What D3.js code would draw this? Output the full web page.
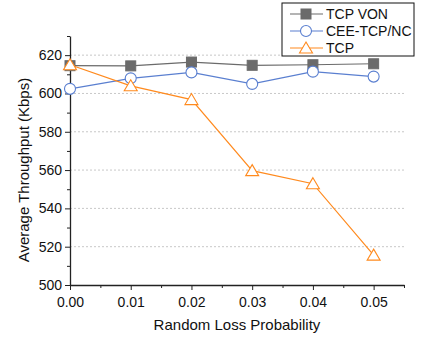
<!DOCTYPE html>
<html lang="en">
<head>
<meta charset="utf-8">
<script src="https://d3js.org/d3.v7.min.js"></script>
<style>
    body { margin: 0; background: #fff; }
    text { font-family: Arial, 'Liberation Sans', sans-serif; fill: #111; }
    .grid line { stroke: #c8c8c8; stroke-dasharray: 2,2; }
    .axis path, .axis line { stroke: #222; }
</style>
</head>
<body>
<svg width="425" height="344"></svg>
<script>
// data
var lossProb = [0.00, 0.01, 0.02, 0.03, 0.04, 0.05];
var tcpVon = [614.5, 614.4, 616.4, 614.7, 615.0, 615.5];
var ceeTcpNc = [602.4, 607.9, 611.0, 605.0, 611.4, 608.8];
var tcp = [615.0, 604.0, 596.8, 559.7, 552.9, 515.6];
var xTicks = [0, 0.01, 0.02, 0.03, 0.04, 0.05];
var yTicks = [500, 520, 540, 560, 580, 600, 620];
var seriesNames = ["TCP VON", "CEE-TCP/NC", "TCP"];

var svg = d3.select("svg"),
    margin = {top: 36, right: 21, bottom: 59, left: 70},
    width = +svg.attr("width") - margin.left - margin.right,
    height = +svg.attr("height") - margin.top - margin.bottom,
    g = svg.append("g").attr("transform", "translate(" + margin.left + "," + margin.top + ")");

var x = d3.scaleLinear().domain([0, 0.055]).range([0, width]);
var y = d3.scaleLinear().domain([500, 630]).range([height, 0]);

// dashed grid
g.append("g").attr("class", "grid")
    .selectAll("line")
    .data(yTicks.slice(1))
    .enter().append("line")
    .attr("x1", 0).attr("x2", width)
    .attr("y1", function(d) { return y(d); })
    .attr("y2", function(d) { return y(d); });

// minor ticks
g.append("g").attr("class", "axis")
    .attr("transform", "translate(0," + height + ")")
    .call(d3.axisBottom(x).tickValues(d3.range(0.005, 0.056, 0.01)).tickSize(3).tickFormat(""))
    .select(".domain").remove();
g.append("g").attr("class", "axis")
    .call(d3.axisLeft(y).tickValues(d3.range(510, 631, 20)).tickSize(3).tickFormat(""))
    .select(".domain").remove();

var xAxis = g.append("g").attr("class", "axis")
    .attr("transform", "translate(0," + height + ")")
    .call(d3.axisBottom(x).tickValues(xTicks).tickSize(5).tickSizeOuter(0).tickFormat(d3.format(".2f")));
xAxis.selectAll("text").attr("font-size", 14).attr("dy", "1em").style("font-family", "Arial, 'Liberation Sans', sans-serif");

var yAxis = g.append("g").attr("class", "axis")
    .call(d3.axisLeft(y).tickValues(yTicks).tickSize(5).tickSizeOuter(0));
yAxis.selectAll("text").attr("font-size", 14).style("font-family", "Arial, 'Liberation Sans', sans-serif");
svg.selectAll(".axis path.domain").attr("stroke-width", 1.3);

svg.append("text")
    .attr("x", margin.left + x(0.0275))
    .attr("y", 330)
    .attr("text-anchor", "middle")
    .attr("font-size", 15)
    .text("Random Loss Probability");

svg.append("text")
    .attr("transform", "translate(29," + (margin.top + y(560)) + ") rotate(-90)")
    .attr("text-anchor", "middle")
    .attr("font-size", 15)
    .text("Average Throughput (Kbps)");

var series = [
    {name: seriesNames[0], values: tcpVon, color: "#6b6b6b", shape: "square"},
    {name: seriesNames[1], values: ceeTcpNc, color: "#5a7fd0", shape: "circle"},
    {name: seriesNames[2], values: tcp, color: "#ff8a1e", shape: "triangle"}
];

var line = d3.line()
    .x(function(d, i) { return x(lossProb[i]); })
    .y(function(d) { return y(d); });

function marker(sel, s) {
    if (s.shape === "square") {
        sel.append("rect").attr("x", -5).attr("y", -5).attr("width", 10).attr("height", 10)
            .attr("fill", s.color).attr("stroke", s.color);
    } else if (s.shape === "circle") {
        sel.append("circle").attr("r", 5.5).attr("fill", "#fff").attr("stroke", s.color).attr("stroke-width", 1.1);
    } else {
        sel.append("path").attr("d", "M0,-6L6.5,5L-6.5,5Z").attr("fill", "#fff").attr("stroke", s.color).attr("stroke-width", 1.1);
    }
}

series.forEach(function(s) {
    g.append("path")
        .datum(s.values)
        .attr("fill", "none")
        .attr("stroke", s.color)
        .attr("stroke-width", 1.2)
        .attr("d", line);
    g.selectAll(".pt-" + s.shape)
        .data(s.values)
        .enter().append("g")
        .attr("class", "pt-" + s.shape)
        .attr("transform", function(d, i) { return "translate(" + x(lossProb[i]) + "," + y(d) + ")"; })
        .each(function() { marker(d3.select(this), s); });
});

// legend
var legend = svg.append("g").attr("transform", "translate(282,3)");
legend.append("rect").attr("width", 132).attr("height", 53)
    .attr("fill", "#fff").attr("stroke", "#111").attr("stroke-width", 1);
series.forEach(function(s, i) {
    var row = legend.append("g").attr("transform", "translate(0," + (11 + i * 17) + ")");
    row.append("line").attr("x1", 8).attr("x2", 41).attr("stroke", s.color).attr("stroke-width", 1.2);
    var m = row.append("g").attr("transform", "translate(24,0)");
    marker(m, s);
    row.append("text").attr("x", 44).attr("dy", "0.35em").attr("font-size", 14).text(s.name);
});
</script>
</body>
</html>
